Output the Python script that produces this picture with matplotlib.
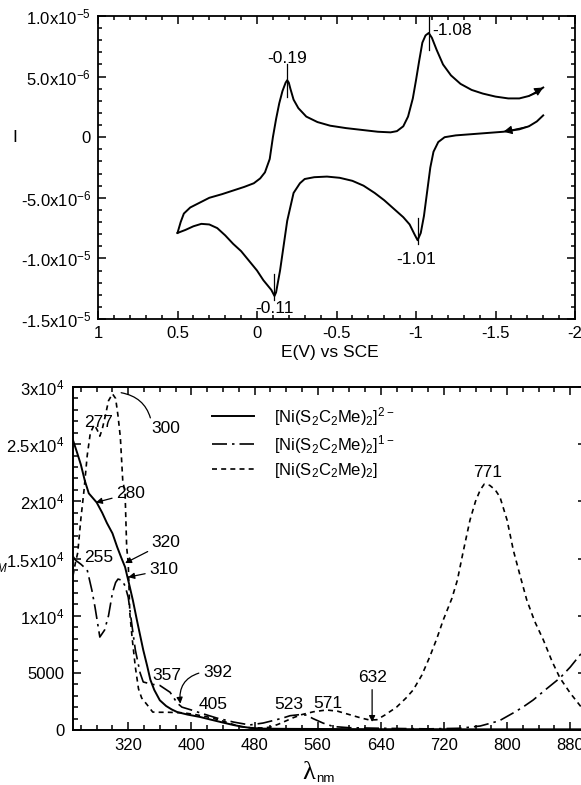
import matplotlib
matplotlib.use('Agg')
import matplotlib.pyplot as plt
from matplotlib.ticker import MultipleLocator, FixedLocator

plt.rcParams['font.family'] = ['Liberation Sans', 'DejaVu Sans']
plt.rcParams['mathtext.fontset'] = 'custom'
plt.rcParams['mathtext.rm'] = 'Liberation Sans'
plt.rcParams['mathtext.it'] = 'Liberation Sans:italic'
plt.rcParams['mathtext.bf'] = 'Liberation Sans:bold'
plt.rcParams['axes.unicode_minus'] = False

# ---------------- Cyclic voltammogram (E in V, I in microamps) ----------------
cv_fwd_E = [0.50, 0.48, 0.46, 0.42, 0.36, 0.30, 0.22, 0.15, 0.08, 0.02, -0.02, -0.05,
            -0.08, -0.10, -0.12, -0.14, -0.16, -0.18, -0.19, -0.20, -0.21, -0.23, -0.26,
            -0.31, -0.38, -0.46, -0.56, -0.66, -0.76, -0.84, -0.88, -0.92, -0.95, -0.98,
            -1.00, -1.02, -1.04, -1.06, -1.08, -1.10, -1.13, -1.17, -1.22, -1.28, -1.35,
            -1.42, -1.50, -1.58, -1.65, -1.71, -1.76, -1.80]
cv_fwd_I = [-7.9, -7.0, -6.3, -5.8, -5.4, -5.0, -4.7, -4.4, -4.1, -3.8, -3.4, -2.9,
            -1.8, 0.0, 1.5, 2.8, 3.8, 4.5, 4.7, 4.5, 4.0, 3.1, 2.4,
            1.7, 1.25, 0.95, 0.75, 0.6, 0.45, 0.4, 0.5, 0.9, 1.7, 3.2,
            4.7, 6.3, 7.8, 8.4, 8.6, 8.2, 7.2, 6.0, 5.1, 4.4, 3.9,
            3.6, 3.35, 3.2, 3.2, 3.4, 3.7, 4.1]
cv_rev_E = [-1.80, -1.76, -1.71, -1.65, -1.55, -1.45, -1.35, -1.25, -1.18, -1.14,
            -1.11, -1.09, -1.07, -1.05, -1.03, -1.01, -0.99, -0.96, -0.92, -0.86,
            -0.80, -0.74, -0.67, -0.60, -0.52, -0.44, -0.36, -0.30, -0.27, -0.23,
            -0.19, -0.145, -0.12, -0.11, -0.09, -0.04, 0.00, 0.05, 0.10, 0.15,
            0.20, 0.25, 0.30, 0.35, 0.40, 0.45, 0.50]
cv_rev_I = [1.8, 1.3, 0.9, 0.65, 0.45, 0.35, 0.25, 0.15, 0.0, -0.4,
            -1.2, -2.5, -4.5, -6.5, -7.9, -8.5, -8.0, -7.2, -6.6, -5.9,
            -5.2, -4.6, -4.0, -3.6, -3.35, -3.25, -3.3, -3.45, -3.8, -4.6,
            -6.9, -11.0, -12.8, -13.1, -12.6, -11.8, -11.0, -10.2, -9.4, -8.8,
            -8.1, -7.5, -7.2, -7.15, -7.35, -7.65, -7.9]
cv_peak_E = [-0.19, -1.08, -1.01, -0.11]
cv_peak_I = [4.7, 8.6, -8.5, -13.1]
cv_peak_labels = ['-0.19', '-1.08', '-1.01', '-0.11']
cv_xticks = [1, 0.5, 0, -0.5, -1, -1.5, -2]
cv_xticklabels = ['1', '0.5', '0', '-0.5', '-1', '-1.5', '-2']
cv_yticks = [1e-5, 5e-6, 0, -5e-6, -1e-5, -1.5e-5]
cv_yticklabels = [r'1.0x10$^{-5}$', r'5.0x10$^{-6}$', '0', r'-5.0x10$^{-6}$',
                  r'-1.0x10$^{-5}$', r'-1.5x10$^{-5}$']

# ---------------- UV-vis spectra ----------------
wl_di = [250, 255, 260, 265, 270, 275, 280, 287, 293, 300, 306, 311, 316, 322, 326,
         331, 335, 339, 344, 348, 353, 360, 368, 375, 382, 395, 411, 425, 440, 453,
         465, 475, 490, 520, 560, 600, 640, 700, 760, 820, 900]
eps_di = [25350, 24300, 23200, 21800, 20700, 20300, 19900, 19000, 18100, 17200, 16000,
          15100, 14250, 12500, 11300, 9600, 8300, 7000, 5600, 4400, 3500, 2600, 2100,
          1800, 1570, 1350, 1140, 900, 650, 440, 280, 180, 120, 100, 90, 80, 70, 70,
          60, 60, 60]

wl_mono = [250, 253, 260, 268, 274, 278, 284, 290, 295, 300, 304, 307, 312, 316, 320,
           325, 329, 335, 339, 350, 360, 373, 382, 388, 400, 411, 432, 453, 474, 491,
           505, 516, 525, 538, 546, 554, 567, 580, 600, 640, 700, 740, 766, 790, 808,
           820, 833, 850, 867, 880, 894, 900]
eps_mono = [15200, 14860, 14500, 14000, 12200, 10700, 8130, 8740, 10000, 12000, 12900,
            13200, 13100, 12600, 11600, 9000, 7000, 5000, 4200, 4000, 3900, 3300, 2360,
            2000, 1750, 1500, 1050, 700, 440, 610, 850, 1050, 1250, 1350, 1300, 1000,
            600, 300, 200, 150, 100, 150, 350, 800, 1500, 2000, 2620, 3600, 4550, 5500,
            6700, 7100]

wl_neu = [250, 253, 256, 260, 264, 268, 272, 277, 281, 284, 287, 291, 295, 300, 304,
          307, 310, 313, 316, 318, 320, 322, 325, 329, 333, 337, 344, 351, 360, 370,
          390, 405, 420, 436, 450, 462, 475, 490, 500, 510, 520, 530, 540, 555, 571,
          585, 600, 615, 626, 635, 645, 660, 672, 681, 692, 702, 711, 719, 730, 737,
          744, 753, 760, 766, 771, 778, 785, 791, 800, 808, 817, 825, 835, 846, 857,
          867, 880, 894, 900]
eps_neu = [13500, 14600, 15500, 18500, 21000, 24000, 26000, 26700, 26200, 25700, 26300,
           27500, 28800, 29400, 29000, 27500, 25600, 21850, 20700, 16000, 14600, 10200,
           8000, 5500, 3600, 2800, 2200, 1570, 1550, 1550, 1500, 1350, 1150, 870, 550,
           300, 200, 180, 250, 500, 800, 1100, 1350, 1600, 1750, 1650, 1350, 1050, 870,
           900, 1300, 2000, 2800, 3500, 4800, 6400, 8000, 9600, 11500, 13100, 15470,
           18360, 20000, 21000, 21500, 21400, 21000, 20370, 18360, 15700, 13370, 11360,
           9500, 7870, 6000, 4550, 3230, 2000, 1700]

uv_labels = ['[Ni(S$_2$C$_2$Me)$_2$]$^{2-}$', '[Ni(S$_2$C$_2$Me)$_2$]$^{1-}$',
             '[Ni(S$_2$C$_2$Me)$_2$]']
uv_xticks = [320, 400, 480, 560, 640, 720, 800, 880]
uv_yticks = [0, 5000, 10000, 15000, 20000, 25000, 30000]
uv_yticklabels = ['0', '5000', r'1x10$^4$', r'1.5x10$^4$', r'2x10$^4$',
                  r'2.5x10$^4$', r'3x10$^4$']

W, H = 581, 785
fig = plt.figure(figsize=(W / 100, H / 100), dpi=100)

def fx(px):
    return px / W

def fy(py):
    return 1 - py / H

# ---------------- top panel ----------------
ax1 = fig.add_axes([fx(98), fy(319), fx(575 - 98), (319 - 16) / H])
lw = 1.4
ax1.plot(cv_fwd_E, [v * 1e-6 for v in cv_fwd_I], color='k', lw=lw)
ax1.plot(cv_rev_E, [v * 1e-6 for v in cv_rev_I], color='k', lw=lw)
# scan direction arrowheads
ax1.annotate('', xy=(cv_fwd_E[-1], cv_fwd_I[-1] * 1e-6),
             xytext=(cv_fwd_E[-3], cv_fwd_I[-3] * 1e-6),
             arrowprops=dict(arrowstyle='-|>', color='k', lw=0.8, mutation_scale=13,
                             shrinkA=0, shrinkB=0))
ax1.annotate('', xy=(cv_rev_E[4], cv_rev_I[4] * 1e-6),
             xytext=(cv_rev_E[2], cv_rev_I[2] * 1e-6),
             arrowprops=dict(arrowstyle='-|>', color='k', lw=0.8, mutation_scale=13,
                             shrinkA=0, shrinkB=0))
# peak markers
for e, i in zip(cv_peak_E, cv_peak_I):
    if i > 0:
        ax1.plot([e, e], [(i - 1.4) * 1e-6, (i + 1.3) * 1e-6], color='k', lw=0.9)
    else:
        ax1.plot([e, e], [(i + 1.8) * 1e-6, (i - 0.3) * 1e-6], color='k', lw=0.9)
cv_label_pos = [(-0.19, 6.5e-6, 'center', 'center'), (-1.105, 8.8e-6, 'left', 'center'),
                (-1.0, -10.1e-6, 'center', 'center'), (-0.11, -14.1e-6, 'center', 'center')]
for lab, (x, y, ha, va) in zip(cv_peak_labels, cv_label_pos):
    ax1.text(x, y, lab, ha=ha, va=va, fontsize=12.5)

ax1.set_xlim(1, -2)
ax1.set_ylim(-1.5e-5, 1.0e-5)
ax1.xaxis.set_major_locator(FixedLocator(cv_xticks))
ax1.set_xticklabels(cv_xticklabels)
ax1.yaxis.set_major_locator(FixedLocator(cv_yticks))
ax1.set_yticklabels(cv_yticklabels)
ax1.xaxis.set_minor_locator(MultipleLocator(0.1))
ax1.yaxis.set_minor_locator(MultipleLocator(1e-6))
ax1.tick_params(which='both', direction='in', top=True, right=True, width=1.1)
ax1.tick_params(which='major', length=5.5, labelsize=12, pad=5)
ax1.tick_params(which='minor', length=3)
for s in ax1.spines.values():
    s.set_linewidth(1.3)
fig.text(fx(15), fy(137), 'I', fontsize=12.5, ha='center', va='center')
fig.text(fx(330), fy(352), 'E(V) vs SCE', fontsize=12.5, ha='center', va='center')

# ---------------- bottom panel ----------------
ax2 = fig.add_axes([fx(73), fy(730), fx(586 - 73), (730 - 387) / H])
l1, = ax2.plot(wl_di, eps_di, color='k', lw=1.4, ls='-')
l2, = ax2.plot(wl_mono, eps_mono, color='k', lw=1.2, ls=(0, (9, 3, 1.5, 3)))
l3, = ax2.plot(wl_neu, eps_neu, color='k', lw=1.2, ls=(0, (3, 2.5)))
ax2.set_xlim(250, 900)
ax2.set_ylim(0, 30000)
ax2.xaxis.set_major_locator(FixedLocator(uv_xticks))
ax2.xaxis.set_minor_locator(MultipleLocator(20))
ax2.yaxis.set_major_locator(FixedLocator(uv_yticks))
ax2.set_yticklabels(uv_yticklabels)
ax2.yaxis.set_minor_locator(MultipleLocator(1000))
ax2.tick_params(which='both', direction='in', top=True, right=True, width=1.1)
ax2.tick_params(which='major', length=5.5, labelsize=12, pad=6)
ax2.tick_params(which='minor', length=3.5)
for s in ax2.spines.values():
    s.set_linewidth(1.4)

leg = ax2.legend([l1, l2, l3], uv_labels, loc='upper left',
                 bbox_to_anchor=((212 - 73) / (586 - 73), (730 - 405) / (730 - 387)),
                 frameon=False, fontsize=12, handlelength=2.5, handletextpad=1.2,
                 labelspacing=0.3, borderpad=0, borderaxespad=0)

ann_kw = dict(fontsize=12.5, ha='center', va='center')
arr = dict(arrowstyle='-|>', color='k', lw=0.9, mutation_scale=9, shrinkA=1, shrinkB=0)
ax2.text(282, 26900, '277', **ann_kw)
ax2.annotate('300', xy=(311, 29500), xytext=(368, 26400),
             arrowprops=dict(arrowstyle='-', color='k', lw=0.9, shrinkA=0, shrinkB=0,
                             relpos=(0.0, 0.8), connectionstyle='arc3,rad=0.35'),
             **ann_kw)
ax2.annotate('280', xy=(279, 19900), xytext=(323, 20700), arrowprops=arr, **ann_kw)
ax2.annotate('320', xy=(316, 14600), xytext=(368, 16430), arrowprops=arr, **ann_kw)
ax2.annotate('310', xy=(320, 13370), xytext=(365, 14000), arrowprops=arr, **ann_kw)
ax2.text(282, 15100, '255', **ann_kw)
ax2.text(369, 4800, '357', **ann_kw)
ax2.annotate('392', xy=(386, 2300), xytext=(433, 5070),
             arrowprops=dict(arrowstyle='-|>', color='k', lw=0.9, mutation_scale=9,
                             shrinkA=1, shrinkB=0, relpos=(0.0, 0.5),
                             connectionstyle='arc3,rad=0.45'),
             **ann_kw)
ax2.text(427, 2200, '405', **ann_kw)
ax2.text(524, 2200, '523', **ann_kw)
ax2.text(573, 2360, '571', **ann_kw)
ax2.annotate('632', xy=(629, 700), xytext=(629, 4550), arrowprops=arr, **ann_kw)
ax2.text(775, 22550, '771', **ann_kw)

fig.text(fx(8), fy(567), r'$\epsilon_M$', fontsize=12, ha='right', va='center')
fig.text(fx(315), fy(773), 'λ', fontsize=19, ha='right', va='center',
         family=['Liberation Serif', 'DejaVu Serif'])
fig.text(fx(316), fy(779), 'nm', fontsize=9.5, ha='left', va='center')

fig.savefig('out.png', dpi=100)
